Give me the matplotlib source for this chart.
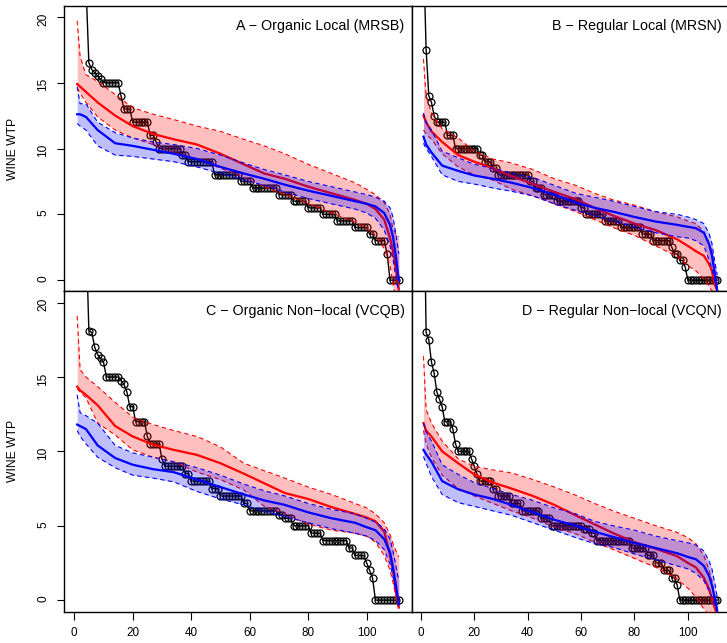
import numpy as np
import matplotlib
matplotlib.use("Agg")
import matplotlib.pyplot as plt

plt.rcParams["font.family"] = ["Liberation Sans", "DejaVu Sans"]

# panel titles
TITLES = ["A \u2212 Organic Local (MRSB)", "B \u2212 Regular Local (MRSN)",
          "C \u2212 Organic Non\u2212local (VCQB)", "D \u2212 Regular Non\u2212local (VCQN)"]

# observed WTP, sorted (one value per respondent, x = 1..111)
A_OBS = [30, 26, 24, 22.5, 16.5, 16, 15.75, 15.5, 15.25,
         15, 15, 15, 15, 15, 15, 14, 13, 13, 13,
         12, 12, 12, 12, 12, 12, 11, 11, 10.5,
         10, 10, 10, 10, 10, 10, 10, 10, 9.5, 9.5,
         9, 9, 9, 9, 9, 9, 9, 9, 9,
         8, 8, 8, 8, 8, 8, 8, 8, 8, 7.5, 7.5, 7.5, 7.5,
         7, 7, 7, 7, 7, 7, 7, 7, 7, 6.5, 6.5, 6.5, 6.5, 6.5,
         6, 6, 6, 6, 6, 5.5, 5.5, 5.5, 5.5, 5.5, 5, 5, 5, 5, 5,
         4.5, 4.5, 4.5, 4.5, 4.5, 4.5, 4, 4, 4, 4, 4, 3.5, 3.5,
         3, 3, 3, 3, 2, 0, 0, 0, 0]
B_OBS = [25, 17.5, 14, 13.5, 12.5, 12, 12, 12, 12, 11, 11, 11,
         10, 10, 10, 10, 10, 10, 10, 10, 10, 9.5, 9.5, 9, 9, 9, 8.5, 8.5,
         8, 8, 8, 8, 8, 8, 8, 8, 8, 8, 8, 8, 7.5, 7.5, 7, 7, 7,
         6.5, 6.5, 6.5, 6.5, 6.5, 6, 6, 6, 6, 6, 6, 6, 6, 6, 5.5, 5.5,
         5, 5, 5, 5, 5, 5, 5, 4.5, 4.5, 4.5, 4.5, 4.5, 4.5,
         4, 4, 4, 4, 4, 4, 4, 4, 3.5, 3.5, 3.5, 3.5,
         3, 3, 3, 3, 3, 3, 3, 2.5, 2, 2, 1.5, 1.5, 1,
         0, 0, 0, 0, 0, 0, 0, 0, 0, 0, 0, 0]
C_OBS = [40, 35, 30, 25, 18.1, 18, 17, 16.5, 16.25, 16,
         15, 15, 15, 15, 15, 14.75, 14.5, 14, 13, 13, 12, 12, 12, 12, 11,
         10.5, 10.5, 10.5, 10.5, 9.5, 9, 9, 9, 9, 9, 9, 9, 8.5, 8.5,
         8, 8, 8, 8, 8, 8, 8, 7.5, 7.5, 7.5, 7, 7, 7, 7, 7, 7, 7, 7, 6.5, 6.5,
         6, 6, 6, 6, 6, 6, 6, 6, 6, 6, 5.75, 5.75, 5.5, 5.5, 5.5,
         5, 5, 5, 5, 5, 5, 4.5, 4.5, 4.5, 4.5,
         4, 4, 4, 4, 4, 4, 4, 4, 4, 3.5, 3.5, 3, 3, 3, 3, 2.5, 2, 1.5,
         0, 0, 0, 0, 0, 0, 0, 0, 0]
D_OBS = [30, 18, 17.5, 16, 15.25, 14, 13.5, 13, 12, 12, 12, 11.5, 10.5,
         10, 10, 10, 10, 10, 9.5, 9, 8.5, 8, 8, 8, 8, 8, 7.5, 7.5,
         7, 7, 7, 7, 7, 6.5, 6.5, 6.5, 6.5, 6, 6, 6, 6, 6, 6, 6,
         5.5, 5.5, 5.5, 5.5, 5, 5, 5, 5, 5, 5, 5, 5, 5, 5, 5, 5,
         4.75, 4.75, 4.75, 4.5, 4.5, 4, 4, 4, 4, 4, 4, 4, 4, 4, 4, 4, 4, 4,
         3.5, 3.5, 3.5, 3.5, 3.5, 3.5, 3, 3, 3, 2.5, 2.5, 2.5, 2, 2, 2,
         1.5, 1.5, 1, 0, 0, 0, 0, 0, 0, 0, 0, 0, 0, 0, 0, 0, 0, 0]

# x positions where the simulated curves were read
KNOTS = [1, 2, 4, 8, 14, 20, 27, 34, 42, 50, 58, 65, 72, 80, 88, 96, 100, 103, 106, 108, 109, 110, 111]

A_RED_MID = [14.9, 14.7, 14.3, 13.5, 12.5, 11.7, 11.1, 10.7, 10.3, 9.6, 8.8, 8.1, 7.7, 7.1, 6.6, 6.1, 5.8, 5.4, 4.6, 3.2, 2.2, 0.8, -0.7]
A_RED_HI = [19.7, 17.0, 15.6, 15.1, 14.1, 13.1, 12.6, 12.2, 11.7, 11.3, 10.7, 10.2, 9.6, 8.8, 8.1, 7.4, 6.9, 6.5, 5.9, 5.0, 3.9, 3.5, 3.3]
A_RED_LO = [14.6, 14.2, 13.5, 12.4, 11.4, 10.8, 10.3, 9.7, 9.2, 8.5, 7.8, 7.1, 6.5, 5.8, 5.1, 4.4, 3.9, 3.4, 2.4, 1.1, -0.3, -1.5, -2.5]
A_BLUE_MID = [12.6, 12.6, 12.4, 11.4, 10.4, 10.2, 9.9, 9.6, 9.2, 8.6, 8.1, 7.7, 7.25, 6.8, 6.4, 6.0, 5.8, 5.6, 5.1, 4.2, 3.3, 1.8, 0.0]
A_BLUE_HI = [14.7, 13.4, 13.4, 12.0, 11.2, 10.8, 10.5, 10.3, 10.0, 9.5, 8.9, 8.4, 8.0, 7.5, 7.1, 6.7, 6.5, 6.3, 6.0, 5.5, 4.8, 3.5, 2.0]
A_BLUE_LO = [11.9, 11.7, 11.4, 10.2, 9.5, 9.4, 9.2, 9.0, 8.6, 8.1, 7.6, 7.2, 6.7, 6.2, 5.8, 5.4, 5.1, 4.7, 3.8, 2.6, 1.6, 0.2, -1.0]

B_RED_MID = [12.5, 12.0, 11.3, 10.5, 9.5, 9.0, 8.5, 7.9, 7.3, 6.7, 6.15, 5.5, 4.9, 4.3, 3.8, 3.1, 2.6, 2.2, 1.85, 1.2, 0.7, -0.3, -0.8]
B_RED_HI = [16.8, 14.0, 12.7, 11.5, 10.8, 9.8, 9.2, 8.9, 8.4, 7.7, 7.2, 6.6, 6.1, 5.7, 5.2, 4.8, 4.5, 4.3, 3.7, 2.8, 2.2, 0.8, -0.3]
B_RED_LO = [11.4, 11.1, 10.7, 9.6, 8.6, 8.0, 7.6, 6.9, 6.4, 5.8, 5.2, 4.6, 4.0, 3.4, 2.6, 1.8, 1.1, 0.7, 0.1, -0.5, -0.8, -1.0, -1.2]
B_BLUE_MID = [10.9, 10.3, 9.7, 8.7, 8.3, 7.95, 7.7, 7.4, 7.0, 6.5, 5.9, 5.5, 5.2, 4.8, 4.45, 4.2, 4.05, 3.95, 3.6, 2.7, 1.9, 0.6, -0.8]
B_BLUE_HI = [12.7, 12.0, 11.4, 9.8, 9.3, 8.8, 8.5, 8.15, 7.8, 7.2, 6.6, 6.3, 6.0, 5.6, 5.2, 5.0, 4.8, 4.6, 4.3, 3.5, 2.8, 1.5, 0.4]
B_BLUE_LO = [10.4, 10.0, 9.4, 8.0, 7.5, 7.3, 7.0, 6.75, 6.4, 5.8, 5.3, 4.9, 4.5, 4.0, 3.6, 3.3, 3.2, 3.0, 2.6, 1.5, 0.9, 0.0, -0.8]

C_RED_MID = [14.35, 14.1, 13.8, 13.1, 11.7, 11.0, 10.45, 10.1, 9.76, 9.2, 8.5, 7.85, 7.2, 6.8, 6.25, 5.8, 5.55, 5.3, 4.6, 3.0, 2.0, 0.5, -0.5]
C_RED_HI = [19.1, 15.5, 15.0, 14.35, 13.3, 12.3, 11.8, 11.4, 11.0, 10.3, 9.2, 8.7, 8.2, 7.6, 7.1, 6.5, 6.2, 5.8, 5.2, 4.4, 3.8, 3.3, 2.9]
C_RED_LO = [14.2, 14.0, 13.6, 11.9, 11.1, 10.1, 9.6, 9.3, 8.6, 8.1, 7.4, 6.3, 5.8, 5.1, 4.7, 4.5, 4.3, 3.9, 3.0, 2.0, 1.2, 0.2, -0.6]
C_BLUE_MID = [11.8, 11.7, 11.5, 10.4, 9.55, 9.1, 8.8, 8.6, 8.1, 7.6, 7.1, 6.7, 6.4, 5.9, 5.5, 5.2, 4.9, 4.7, 4.1, 3.2, 2.2, 1.0, -0.3]
C_BLUE_HI = [13.8, 12.6, 12.4, 11.9, 10.4, 9.9, 9.6, 9.3, 8.9, 8.4, 7.8, 7.35, 7.0, 6.5, 6.1, 5.8, 5.5, 5.25, 4.8, 4.1, 3.3, 2.3, 1.3]
C_BLUE_LO = [11.4, 11.0, 10.5, 9.6, 8.9, 8.4, 8.2, 7.95, 7.3, 6.8, 6.4, 5.95, 5.6, 5.2, 4.8, 4.5, 4.3, 4.0, 3.4, 2.4, 1.6, 0.6, -0.3]

D_RED_MID = [11.9, 11.4, 11.0, 10.0, 9.2, 8.45, 7.9, 7.5, 7.0, 6.4, 5.7, 5.1, 4.5, 3.9, 3.45, 2.95, 2.5, 2.2, 1.5, 0.7, 0.1, -0.5, -1.0]
D_RED_HI = [16.4, 12.8, 11.9, 10.7, 9.5, 9.0, 8.75, 8.55, 8.1, 7.6, 7.05, 6.5, 6.0, 5.5, 5.0, 4.55, 4.2, 3.8, 3.0, 2.0, 1.3, 0.3, -0.5]
D_RED_LO = [11.4, 10.5, 9.6, 8.4, 7.5, 7.0, 6.5, 6.0, 5.5, 4.9, 4.45, 3.9, 3.4, 2.8, 2.2, 1.4, 0.8, 0.2, -0.6, -1.0, -1.0, -1.0, -1.0]
D_BLUE_MID = [10.1, 9.8, 9.3, 8.0, 7.45, 7.1, 6.8, 6.4, 5.9, 5.4, 5.0, 4.6, 4.25, 3.85, 3.5, 3.15, 2.9, 2.75, 2.3, 1.6, 1.0, 0.2, -0.7]
D_BLUE_HI = [11.9, 11.3, 10.7, 9.1, 8.45, 7.9, 7.5, 7.1, 6.7, 6.2, 5.8, 5.3, 5.0, 4.7, 4.3, 4.0, 3.85, 3.7, 3.3, 2.6, 2.1, 1.2, 0.2]
D_BLUE_LO = [9.65, 9.2, 8.3, 7.1, 6.55, 6.3, 6.0, 5.7, 5.2, 4.7, 4.2, 3.8, 3.55, 3.1, 2.7, 2.3, 2.1, 1.8, 1.3, 0.6, 0.2, -0.4, -0.8]

W, H = 727, 643


def px_axes(fig, x0, y0, x1, y1):
    # pixel box (top-left origin) -> figure fraction
    return fig.add_axes([x0 / W, 1 - y1 / H, (x1 - x0) / W, (y1 - y0) / H])


def draw_panel(ax, obs, red, blue, title):
    x = np.arange(1, len(obs) + 1)
    ax.plot(x, obs, color="black", lw=1.0, marker="o", ms=5.0, mfc="none",
            mec="black", mew=0.9, zorder=2)
    z = 3
    for (mid, lo, hi), col in [(red, "red"), (blue, "blue")]:
        ax.fill_between(KNOTS, lo, hi, color=col, alpha=0.25, lw=0, zorder=z)
        ax.plot(KNOTS, lo, color=col, lw=0.8, ls=(0, (4, 3)), zorder=z + 1)
        ax.plot(KNOTS, hi, color=col, lw=0.8, ls=(0, (4, 3)), zorder=z + 1)
        ax.plot(KNOTS, mid, color=col, lw=1.6, zorder=z + 1)
        z += 2
    ax.set_xlim(-3.4, 115.4)
    ax.set_ylim(-0.8, 20.8)
    ax.annotate(title, xy=(1, 1), xycoords="axes fraction", xytext=(-7, -20),
                textcoords="offset pixels", ha="right", va="center", fontsize=10.3)
    for s in ax.spines.values():
        s.set_linewidth(1.0)


fig = plt.figure(figsize=(W / 100, H / 100), dpi=100)

boxes = [(64.3, 6.3, 411.7, 290.7), (411.7, 6.3, 729, 290.7),
         (64.3, 290.7, 411.7, 612), (411.7, 290.7, 729, 612)]
panels = [
    (A_OBS, (A_RED_MID, A_RED_LO, A_RED_HI), (A_BLUE_MID, A_BLUE_LO, A_BLUE_HI)),
    (B_OBS, (B_RED_MID, B_RED_LO, B_RED_HI), (B_BLUE_MID, B_BLUE_LO, B_BLUE_HI)),
    (C_OBS, (C_RED_MID, C_RED_LO, C_RED_HI), (C_BLUE_MID, C_BLUE_LO, C_BLUE_HI)),
    (D_OBS, (D_RED_MID, D_RED_LO, D_RED_HI), (D_BLUE_MID, D_BLUE_LO, D_BLUE_HI)),
]

for i, (box, (obs, red, blue)) in enumerate(zip(boxes, panels)):
    ax = px_axes(fig, *box)
    draw_panel(ax, obs, red, blue, TITLES[i])
    ax.set_xticks([0, 20, 40, 60, 80, 100])
    ax.set_yticks([0, 5, 10, 15, 20])
    ax.tick_params(axis="x", length=5.8, width=0.8, pad=5, labelsize=8.4)
    ax.tick_params(axis="y", length=5.0, width=0.8, pad=6, labelsize=8.6, labelrotation=90)
    if i % 2 == 1:
        ax.tick_params(left=False, labelleft=False)
    else:
        yc = (box[1] + box[3]) / 2
        fig.text(13.5 / W, 1 - yc / H, "WINE WTP", rotation=90, ha="center",
                 va="center", fontsize=8.7)
    if i < 2:
        ax.tick_params(bottom=False, labelbottom=False)

fig.savefig("out.png", dpi=100)
